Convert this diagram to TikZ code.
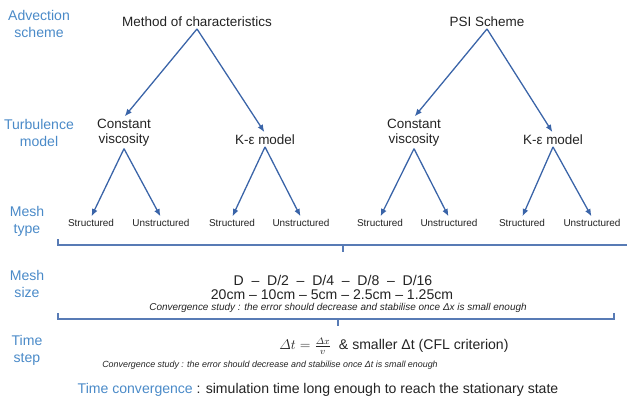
\documentclass[tikz,border=0pt]{standalone}
\usepackage{fontspec}
\setmainfont{Liberation Sans}
\usetikzlibrary{arrows.meta,positioning}
\definecolor{labelblue}{RGB}{74,138,200}
\definecolor{arrowblue}{RGB}{58,100,168}
\definecolor{textgrey}{RGB}{35,35,35}
\tikzset{
 choice/.style={
 align=center,
 text=textgrey,
 inner sep=1.5pt,
 font=\fontsize{11.5}{13}\selectfont
 },
 rowlabel/.style={
 align=center,
 text=labelblue,
 inner sep=0pt,
 font=\fontsize{12}{14.5}\selectfont
 },
 meshkind/.style={
 text=textgrey,
 inner sep=1.5pt,
 font=\fontsize{8.5}{10}\selectfont
 },
 sizeline/.style={
 text=textgrey,
 inner sep=0pt,
 font=\fontsize{12}{14}\selectfont
 },
 note/.style={
 text=textgrey,
 inner sep=0pt,
 font=\fontsize{8}{9}\selectfont\itshape
 },
 flowarrow/.style={-{Latex[length=2.2mm,width=1.8mm]}, line width=1.1pt, draw=arrowblue, shorten >=1pt},
 bracket/.style={line width=1.1pt, draw=arrowblue!85}
}
\newcommand{\sizesep}{\hspace{0.55em}–\hspace{0.55em}}

\begin{document}
\begin{tikzpicture}[x=0.03cm, y=-0.03cm]
 \useasboundingbox (0,0) rectangle (627,407);

 % row labels on the left
 \node[rowlabel] (advlab) at (39,23.5) {Advection\\scheme};
 \node[rowlabel] (turblab) at (39,133) {Turbulence\\model};
 \node[rowlabel] (typelab) at (27,221.5) {Mesh\\type};
 \node[rowlabel] (sizelab) at (27,284) {Mesh\\size};
 \node[rowlabel] (steplab) at (27,350) {Time\\step};

 % advection schemes
 \node[choice] (moc) at (197,22) {Method of characteristics};
 \node[choice] (psi) at (487,22) {PSI Scheme};

 % turbulence models
 \node[choice] (cv1) at (124,133) {Constant\\viscosity};
 \node[choice] (ke1) at (265,140) {K-ε model};
 \node[choice] (cv2) at (414,133) {Constant\\viscosity};
 \node[choice] (ke2) at (553,140) {K-ε model};

 % mesh types
 \node[meshkind] (s1) at (91,223) {Structured};
 \node[meshkind] (u1) at (161,223) {Unstructured};
 \node[meshkind] (s2) at (232,223) {Structured};
 \node[meshkind] (u2) at (301,223) {Unstructured};
 \node[meshkind] (s3) at (380,223) {Structured};
 \node[meshkind] (u3) at (449,223) {Unstructured};
 \node[meshkind] (s4) at (522,223) {Structured};
 \node[meshkind] (u4) at (592,223) {Unstructured};

 \draw[flowarrow] (moc.south) -- (cv1.north);
 \draw[flowarrow] (moc.south) -- (ke1.north);
 \draw[flowarrow] (psi.south) -- (cv2.north);
 \draw[flowarrow] (psi.south) -- (ke2.north);

 \draw[flowarrow] (cv1.south) -- (s1.north);
 \draw[flowarrow] (cv1.south) -- (u1.north);
 \draw[flowarrow] (ke1.south) -- (s2.north);
 \draw[flowarrow] (ke1.south) -- (u2.north);
 \draw[flowarrow] (cv2.south) -- (s3.north);
 \draw[flowarrow] (cv2.south) -- (u3.north);
 \draw[flowarrow] (ke2.south) -- (s4.north);
 \draw[flowarrow] (ke2.south) -- (u4.north);

 % first bracket under the mesh types
 \draw[bracket] (58,239) -- (58,245) -- (627,245);
 \draw[bracket] (343,245) -- (343,252);

 % mesh sizes
 \node[sizeline] (dsizes) at (333,280) {D\sizesep D/2\sizesep D/4\sizesep D/8\sizesep D/16};
 \node[sizeline] (cmsizes) at (332,295) {20cm – 10cm – 5cm – 2.5cm – 1.25cm};
 \node[note, font=\fontsize{8.5}{9}\selectfont\itshape] (dxnote) at (338,308) {Convergence study : the error should decrease and stabilise once Δx is small enough};

 % second bracket
 \draw[bracket] (58,313) -- (58,319) -- (614,319) -- (614,313);
 \draw[bracket] (338,319) -- (338,326);

 % time step
 \node[sizeline] (dtrule) at (394,346) {$\mathnormal{\Delta} t=\frac{\mathnormal{\Delta} x}{v}$\;\;\& smaller Δt (CFL criterion)};
 \node[note, font=\fontsize{7.6}{9}\selectfont\itshape] (dtnote) at (270,365) {Convergence study : the error should decrease and stabilise once Δt is small enough};

 \node[sizeline] (tconv) at (318,390) {\textcolor{labelblue}{Time convergence} : simulation time long enough to reach the stationary state};
\end{tikzpicture}
\end{document}
